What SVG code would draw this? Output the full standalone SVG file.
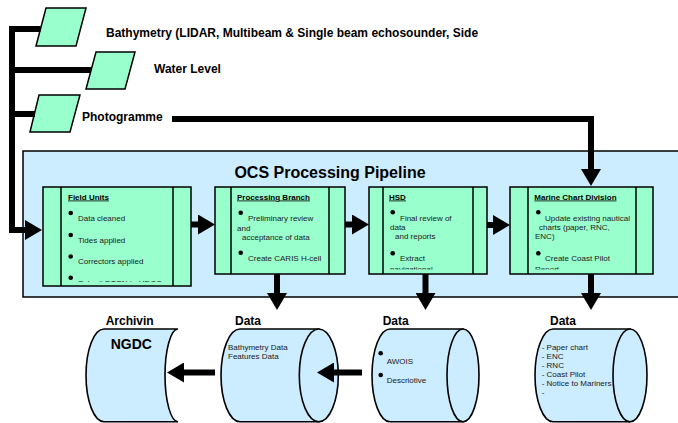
<svg xmlns="http://www.w3.org/2000/svg" width="678" height="423" viewBox="0 0 678 423">
<style>
.src{fill:#99FFCC;stroke:#000;stroke-width:1.5}
.box{fill:#99FFCC;stroke:#000;stroke-width:1.5}
.div{fill:none;stroke:#000;stroke-width:1.5}
.db{fill:#CCECFF;stroke:#000;stroke-width:1.6}
.pipe{fill:#CCECFF;stroke:#000;stroke-width:1.5}
.lbl{font-family:"Liberation Sans",Arial,sans-serif;font-weight:bold;font-size:12px;fill:#000}
.t8{font-family:"Liberation Sans",Arial,sans-serif;font-size:8px;fill:#1a1a1a}
.h8{font-family:"Liberation Sans",Arial,sans-serif;font-size:8px;font-weight:bold;text-decoration:underline;fill:#000}
.conn{fill:none;stroke:#000;stroke-width:6;stroke-linejoin:miter}
.dot{fill:#000}
</style>
<defs>
<marker id="ah" markerUnits="userSpaceOnUse" markerWidth="17" markerHeight="20" viewBox="0 0 17 20" refX="0" refY="10" orient="auto">
<path d="M0,0 L17,10 L0,20 Z" fill="#000"/>
</marker>
<clipPath id="cFU"><rect x="61" y="188" width="112" height="94"/></clipPath>
<clipPath id="cPB"><rect x="231" y="188" width="98" height="81.5"/></clipPath>
<clipPath id="cHSD"><rect x="383" y="188" width="90" height="81.5"/></clipPath>
<clipPath id="cMCD"><rect x="528" y="188" width="108" height="81.5"/></clipPath>
</defs>

<g id="pipeline">
<rect class="pipe" x="23" y="151" width="680" height="146"/>
<text x="330" y="178" text-anchor="middle" style="font-family:'Liberation Sans',Arial,sans-serif;font-weight:bold;font-size:16px">OCS Processing Pipeline</text>
</g>

<g id="src-bathymetry">
<polygon class="src" points="46,8 86,8 76,46 36,46"/>
<text class="lbl" x="106" y="37">Bathymetry (LIDAR, Multibeam &amp; Single beam echosounder, Side</text>
</g>
<g id="src-water">
<polygon class="src" points="96,52 135,52 125,89 86,89"/>
<text class="lbl" x="154" y="73">Water Level</text>
</g>
<g id="src-photo">
<polygon class="src" points="39,95 80,95 70,132 30,132"/>
<text class="lbl" x="82" y="121">Photogramme</text>
</g>

<g id="field-units">
<rect class="box" x="43" y="187" width="148" height="99"/>
<line class="div" x1="61" y1="187" x2="61" y2="286"/>
<line class="div" x1="173" y1="187" x2="173" y2="286"/>
<g clip-path="url(#cFU)">
<text class="h8" x="68" y="199.5">Field Units</text>
<circle class="dot" cx="70.7" cy="213" r="2.3"/>
<text class="t8" x="78" y="220.5">Data cleaned</text>
<circle class="dot" cx="70.7" cy="235" r="2.3"/>
<text class="t8" x="78" y="242.5">Tides applied</text>
<circle class="dot" cx="70.7" cy="256.5" r="2.3"/>
<text class="t8" x="78" y="264">Correctors applied</text>
<circle class="dot" cx="70.7" cy="277.7" r="2.3"/>
<text class="t8" x="78" y="285.5">Submit DTON to HDCC</text>
</g>
</g>

<g id="processing-branch">
<rect class="box" x="215" y="187" width="130" height="87"/>
<line class="div" x1="231" y1="187" x2="231" y2="274"/>
<line class="div" x1="329" y1="187" x2="329" y2="274"/>
<g clip-path="url(#cPB)">
<text class="h8" x="237" y="199.5">Processing Branch</text>
<circle class="dot" cx="240.7" cy="212.7" r="2.3"/>
<text class="t8" x="248" y="221">Preliminary review</text>
<text class="t8" x="237" y="230.5">and</text>
<text class="t8" x="242" y="239.5">acceptance of data</text>
<circle class="dot" cx="240.7" cy="252.7" r="2.3"/>
<text class="t8" x="248" y="261">Create CARIS H-cell</text>
</g>
</g>

<g id="hsd">
<rect class="box" x="369" y="187" width="118" height="87"/>
<line class="div" x1="383" y1="187" x2="383" y2="274"/>
<line class="div" x1="473" y1="187" x2="473" y2="274"/>
<g clip-path="url(#cHSD)">
<text class="h8" x="389" y="199.5">HSD</text>
<circle class="dot" cx="392.7" cy="212.3" r="2.3"/>
<text class="t8" x="400" y="221">Final review of</text>
<text class="t8" x="390" y="230">data</text>
<text class="t8" x="395" y="239">and reports</text>
<circle class="dot" cx="392.7" cy="253.3" r="2.3"/>
<text class="t8" x="400" y="261">Extract</text>
<text class="t8" x="390" y="271.5">navigational</text>
</g>
</g>

<g id="marine-chart-division">
<rect class="box" x="510" y="187" width="143" height="87"/>
<line class="div" x1="528" y1="187" x2="528" y2="274"/>
<line class="div" x1="636" y1="187" x2="636" y2="274"/>
<g clip-path="url(#cMCD)">
<text class="h8" x="534.3" y="199.5">Marine Chart Division</text>
<circle class="dot" cx="538.3" cy="212.3" r="2.3"/>
<text class="t8" x="545" y="221">Update existing nautical</text>
<text class="t8" x="539" y="230">charts (paper, RNC,</text>
<text class="t8" x="535" y="239">ENC)</text>
<circle class="dot" cx="538.3" cy="253.3" r="2.3"/>
<text class="t8" x="545" y="261">Create Coast Pilot</text>
<text class="t8" x="535" y="271.5">Report</text>
</g>
</g>

<g id="archive-ngdc">
<path class="db" d="M104,329 H178 A13,46.35 0 0 0 178,421.7 H104 A18,46.35 0 0 1 104,329 Z"/>
<text class="lbl" x="105.7" y="325">Archivin</text>
<text x="110.7" y="348.5" style="font-family:'Liberation Sans',Arial,sans-serif;font-weight:bold;font-size:14px">NGDC</text>
</g>

<g id="data-bathymetry">
<path class="db" d="M240,329 H318.8 V421.7 H240 A19,46.35 0 0 1 240,329 Z"/>
<ellipse class="db" cx="318.8" cy="375.35" rx="19.5" ry="46.35"/>
<text class="lbl" x="235" y="325">Data</text>
<text class="t8" x="228" y="349.5">Bathymetry Data</text>
<text class="t8" x="228" y="359">Features Data</text>
</g>

<g id="data-hsd">
<path class="db" d="M390,329 H463 V421.7 H390 A18,46.35 0 0 1 390,329 Z"/>
<ellipse class="db" cx="463" cy="375.35" rx="16" ry="46.35"/>
<text class="lbl" x="382.7" y="325">Data</text>
<circle class="dot" cx="380.7" cy="353.3" r="2.3"/>
<text class="t8" x="386.7" y="363.5">AWOIS</text>
<circle class="dot" cx="380.7" cy="375" r="2.3"/>
<text class="t8" x="386.7" y="383">Descriotive</text>
</g>

<g id="data-mcd">
<path class="db" d="M553,329 H630 V421.7 H553 A18,46.35 0 0 1 553,329 Z"/>
<text class="lbl" x="550" y="325">Data</text>
<text class="t8" x="541.7" y="349.5">- Paper chart</text>
<text class="t8" x="541.7" y="358.5">- ENC</text>
<text class="t8" x="541.7" y="367.5">- RNC</text>
<text class="t8" x="541.7" y="376.5">- Coast Pilot</text>
<text class="t8" x="541.7" y="385.5">- Notice to Mariners</text>
<text class="t8" x="541.7" y="394.5">-</text>
<ellipse class="db" cx="630" cy="375.35" rx="17" ry="46.35"/>
</g>

<g id="connectors">
<path class="conn" d="M40.5,29 H12 V230 H25" marker-end="url(#ah)"/>
<path class="conn" d="M12,70 H91"/>
<path class="conn" d="M12,114 H35"/>
<path class="conn" d="M172,119 H591 V169" marker-end="url(#ah)"/>
<path class="conn" d="M191,224.5 H198" marker-end="url(#ah)"/>
<path class="conn" d="M345,224.5 H352" marker-end="url(#ah)"/>
<path class="conn" d="M487,225 H493" marker-end="url(#ah)"/>
<path class="conn" d="M277,274 V293" marker-end="url(#ah)"/>
<path class="conn" d="M425.5,274 V293" marker-end="url(#ah)"/>
<path class="conn" d="M591,274 V293" marker-end="url(#ah)"/>
<path class="conn" d="M362,372.5 H334" marker-end="url(#ah)"/>
<path class="conn" d="M215,372.5 H184" marker-end="url(#ah)"/>
</g>
</svg>
